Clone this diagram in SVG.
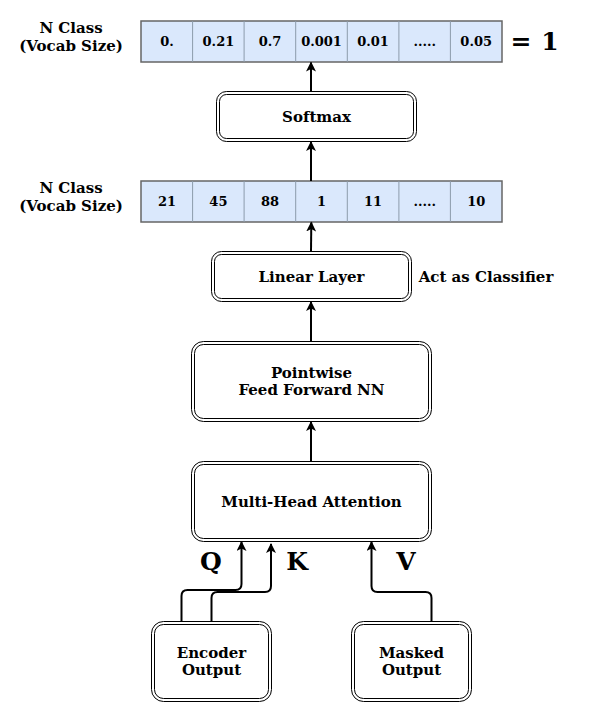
<svg xmlns="http://www.w3.org/2000/svg" width="602" height="722" viewBox="0 0 602 722">
<defs>
<marker id="arr" viewBox="0 0 10 10" refX="9" refY="5" markerWidth="5" markerHeight="5" markerUnits="strokeWidth" orient="auto">
<path d="M0,0 L10,5 L0,10 L2.5,5 Z" fill="#000"/>
</marker>
<style>
.t{font-family:"DejaVu Serif","Liberation Serif",serif;font-weight:bold;fill:#000;text-anchor:middle}
.s14{font-size:15px}
.s12{font-size:13px}
.big{font-size:25px}
.o{fill:#fff;stroke:#000;stroke-width:1}
.i{fill:none;stroke:#000;stroke-width:1}
.arr{fill:#dae8fc;stroke:#666;stroke-width:1.5}
.div{stroke:#8c9bab;stroke-width:1}
.c{fill:none;stroke:#000;stroke-width:2;marker-end:url(#arr)}
</style>
</defs>
<rect width="602" height="722" fill="#fff"/>

<g id="labels">
<text class="t s14" x="71" y="33">N Class</text>
<text class="t s14" x="71" y="51">(Vocab Size)</text>
<text class="t s14" x="71" y="193">N Class</text>
<text class="t s14" x="71" y="211">(Vocab Size)</text>
<text class="t big" x="521" y="50">=</text>
<text class="t big" x="550" y="50">1</text>
<text class="t s14" x="486" y="282">Act as Classifier</text>
<text class="t big" x="211" y="570">Q</text>
<text class="t big" x="297" y="570">K</text>
<text class="t big" x="406" y="570">V</text>
</g>

<g id="probs">
<rect class="arr" x="141" y="21" width="361" height="41"/>
<path class="div" d="M192.6,21V62M244.1,21V62M295.7,21V62M347.3,21V62M398.9,21V62M450.4,21V62"/>
<text class="t s12" x="167" y="46">0.</text>
<text class="t s12" x="218.4" y="46">0.21</text>
<text class="t s12" x="270" y="46">0.7</text>
<text class="t s12" x="321.5" y="46">0.001</text>
<text class="t s12" x="373" y="46">0.01</text>
<text class="t s12" x="424.7" y="46">.....</text>
<text class="t s12" x="476.2" y="46">0.05</text>
</g>

<g id="logits">
<rect class="arr" x="141" y="181" width="361" height="41"/>
<path class="div" d="M192.6,181V222M244.1,181V222M295.7,181V222M347.3,181V222M398.9,181V222M450.4,181V222"/>
<text class="t s12" x="167" y="206">21</text>
<text class="t s12" x="218.4" y="206">45</text>
<text class="t s12" x="270" y="206">88</text>
<text class="t s12" x="321.5" y="206">1</text>
<text class="t s12" x="373" y="206">11</text>
<text class="t s12" x="424.7" y="206">.....</text>
<text class="t s12" x="476.2" y="206">10</text>
</g>

<g id="softmax">
<rect class="o" x="216.5" y="91.5" width="200" height="50" rx="10"/>
<rect class="i" x="219.5" y="94.5" width="194" height="44" rx="7"/>
<text class="t s14" x="316.5" y="122">Softmax</text>
</g>

<g id="linear">
<rect class="o" x="211.5" y="251.5" width="200" height="50" rx="10"/>
<rect class="i" x="214.5" y="254.5" width="194" height="44" rx="7"/>
<text class="t s14" x="311.5" y="282">Linear Layer</text>
</g>

<g id="ffn">
<rect class="o" x="191.5" y="341.5" width="240" height="80" rx="12"/>
<rect class="i" x="194.5" y="344.5" width="234" height="74" rx="9"/>
<text class="t s14" x="311.5" y="378">Pointwise</text>
<text class="t s14" x="311.5" y="395">Feed Forward NN</text>
</g>

<g id="mha">
<rect class="o" x="191.5" y="461.5" width="240" height="80" rx="12"/>
<rect class="i" x="194.5" y="464.5" width="234" height="74" rx="9"/>
<text class="t s14" x="311.5" y="507">Multi-Head Attention</text>
</g>

<g id="encoder">
<rect class="o" x="151.5" y="621.5" width="120" height="80" rx="12"/>
<rect class="i" x="154.5" y="624.5" width="114" height="74" rx="9"/>
<text class="t s14" x="211.5" y="658">Encoder</text>
<text class="t s14" x="211.5" y="675">Output</text>
</g>

<g id="masked">
<rect class="o" x="351.5" y="621.5" width="120" height="80" rx="12"/>
<rect class="i" x="354.5" y="624.5" width="114" height="74" rx="9"/>
<text class="t s14" x="411.5" y="658">Masked</text>
<text class="t s14" x="411.5" y="675">Output</text>
</g>

<g id="connectors">
<path class="c" d="M311,91.5V62.5"/>
<path class="c" d="M311,181V142"/>
<path class="c" d="M311,251.5L311.3,222.5"/>
<path class="c" d="M311,341.5V302"/>
<path class="c" d="M311,461.5V422"/>
<path class="c" d="M181.5,621.5V596Q181.5,590 187.5,590H235.5Q241.5,590 241.5,584V542"/>
<path class="c" d="M211.5,621.5V598Q211.5,592 217.5,592H265Q271,592 271,586V544"/>
<path class="c" d="M431.5,621.5V598Q431.5,592 425.5,592H377.5Q371.5,592 371.5,586V542"/>
</g>
</svg>
